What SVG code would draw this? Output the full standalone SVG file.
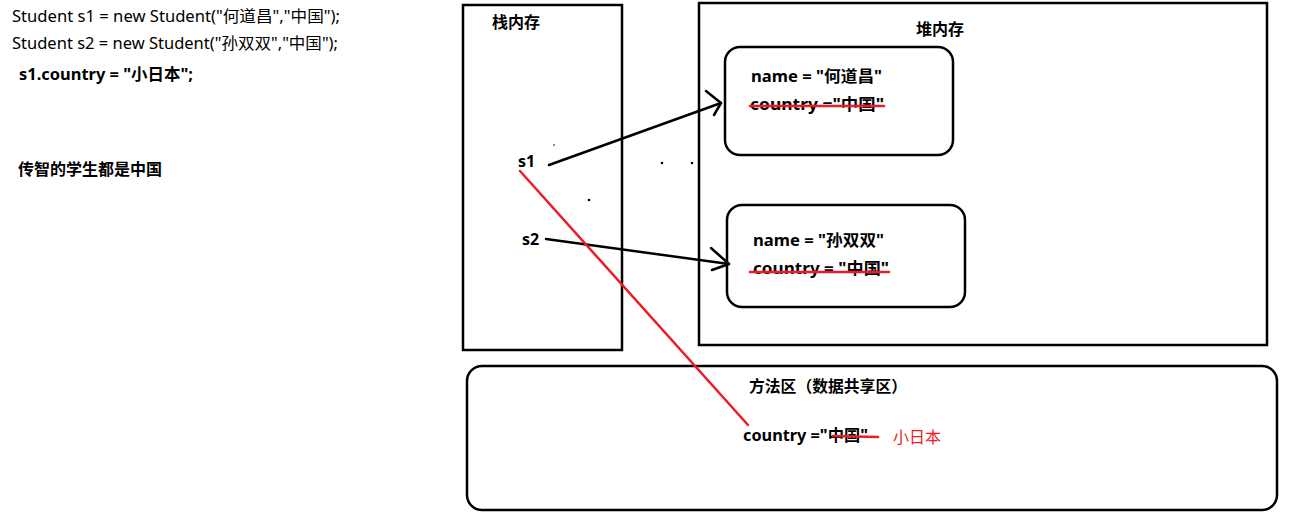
<svg xmlns="http://www.w3.org/2000/svg" width="1292" height="518" viewBox="0 0 1292 518">
<style>
text{font-family:"Noto Sans","Noto Sans CJK SC",sans-serif;fill:#000}
.b{font-weight:bold;font-size:16px}
.n{font-size:15.5px}
.box{fill:none;stroke:#000;stroke-width:2.5}
.ln{fill:none;stroke:#000;stroke-width:2.5;stroke-linecap:round;stroke-linejoin:round}
.red{fill:none;stroke:#ed1c24;stroke-width:2.5;stroke-linecap:round}
</style>
<rect width="1292" height="518" fill="#fff"/>
<g id="code">
<text class="n" x="12" y="22" textLength="328" lengthAdjust="spacingAndGlyphs">Student s1 = new Student("何道昌","中国");</text>
<text class="n" x="12" y="49" textLength="326" lengthAdjust="spacingAndGlyphs">Student s2 = new Student("孙双双","中国");</text>
<text class="b" x="19" y="80" textLength="174" lengthAdjust="spacingAndGlyphs">s1.country = "小日本";</text>
<text class="b" x="18" y="175">传智的学生都是中国</text>
</g>
<g id="stack">
<rect class="box" x="463" y="5" width="159" height="345"/>
<text class="b" x="492" y="28">栈内存</text>
<text class="b" x="518" y="167">s1</text>
<text class="b" x="522" y="245">s2</text>
</g>
<g id="heap">
<rect class="box" x="699" y="3" width="568" height="342"/>
<text class="b" x="916" y="35">堆内存</text>
</g>
<g id="obj1">
<rect class="box" x="725" y="47" width="228" height="108" rx="15"/>
<text class="b" x="751" y="82" textLength="131" lengthAdjust="spacingAndGlyphs">name = "何道昌"</text>
<text class="b" x="750" y="110" textLength="134" lengthAdjust="spacingAndGlyphs">country ="中国"</text>
<line class="red" x1="750" y1="106" x2="884" y2="106"/>
</g>
<g id="obj2">
<rect class="box" x="727" y="205" width="238" height="102" rx="15"/>
<text class="b" x="753" y="246" textLength="131" lengthAdjust="spacingAndGlyphs">name = "孙双双"</text>
<text class="b" x="753" y="274" textLength="136" lengthAdjust="spacingAndGlyphs">country  = "中国"</text>
<line class="red" x1="750" y1="272" x2="889" y2="272"/>
</g>
<g id="method">
<rect class="box" x="467" y="366" width="810" height="144" rx="15"/>
<text class="b" x="749" y="392" textLength="158" lengthAdjust="spacingAndGlyphs">方法区（数据共享区）</text>
<text class="b" x="743" y="441" textLength="125" lengthAdjust="spacingAndGlyphs">country ="中国"</text>
<line class="red" x1="833" y1="436" x2="878" y2="437"/>
<text x="893" y="443" style="font-size:16px;fill:#ed1c24">小日本</text>
</g>
<g id="connectors">
<polyline class="ln" points="549,165 721,103"/>
<polyline class="ln" points="706,91 721,103 714,115"/>
<polyline class="ln" points="546,239 729,264"/>
<polyline class="ln" points="711,248 729,264 712,270"/>
<line class="red" x1="520" y1="171" x2="748" y2="425"/>
</g>
<g id="specks" fill="#000">
<circle cx="554" cy="145" r="0.8"/>
<circle cx="662" cy="163" r="1.3"/>
<circle cx="692" cy="163" r="1.3"/>
<circle cx="589" cy="200" r="1.3"/>
</g>
</svg>
